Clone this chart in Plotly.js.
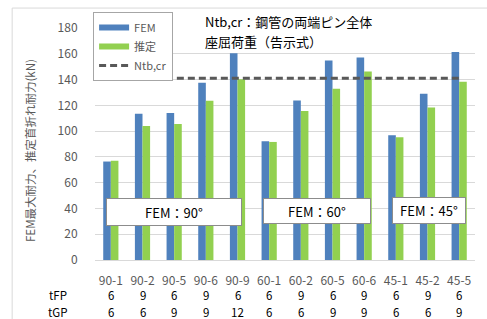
<!DOCTYPE html>
<html>
<head>
<meta charset="utf-8">
<script src="https://cdn.plot.ly/plotly-3.0.1.min.js"></script>
<style>
html,body{margin:0;padding:0;background:#fff;}
#chart{width:487px;height:319px;}
</style>
</head>
<body>
<div id="chart"></div>
<script>
const categories = ['90-1','90-2','90-5','90-6','90-9','60-1','60-2','60-5','60-6','45-1','45-2','45-5'];
const femValues = [76.4, 113.4, 114, 137.5, 160.5, 92.2, 123.7, 154.8, 157.1, 96.8, 128.9, 161.3];
const estValues = [77, 104, 105.6, 123.5, 140.3, 91.6, 115.7, 132.8, 146.3, 95.3, 118.3, 138.3];
const NTB_CR = 141;
const tFP = ['6','9','6','9','6','6','9','6','9','6','9','6'];
const tGP = ['6','6','9','9','12','6','6','9','9','6','6','9'];
const groupLabels = ['FEM：90°','FEM：60°','FEM：45°'];
const yTitle = 'FEM最大耐力、推定首折れ耐力(kN)';

const FONT = '"Noto Sans CJK JP", "Noto Sans", sans-serif';
const BLUE = '#4F81BD', GREEN = '#92D050', DASH = '#595959';

const traces = [
  {type:'bar', x:categories, y:femValues, name:'FEM', marker:{color:BLUE}, showlegend:false},
  {type:'bar', x:categories, y:estValues, name:'推定', marker:{color:GREEN}, showlegend:false},
  {type:'scatter', mode:'lines', x:[categories[0], categories[categories.length-1]], y:[NTB_CR, NTB_CR],
   line:{color:DASH, width:3, dash:'7px,4px'}, showlegend:false, hoverinfo:'skip'},
  {type:'scatter', mode:'lines', x:[null], y:[null], name:'FEM', line:{color:BLUE, width:6}},
  {type:'scatter', mode:'lines', x:[null], y:[null], name:'推定', line:{color:GREEN, width:6}},
  {type:'scatter', mode:'lines', x:[null], y:[null], name:'Ntb,cr', line:{color:DASH, width:3, dash:'7px,4px'}}
];

const annotations = [];
const numFont = {family:FONT, size:11.5, color:'#000'};
const yRow1 = -0.152, yRow2 = -0.222;
categories.forEach((c,i)=>{
  annotations.push({xref:'x', yref:'paper', x:c, y:yRow1, xanchor:'center', yanchor:'middle', text:tFP[i], showarrow:false, font:numFont});
  annotations.push({xref:'x', yref:'paper', x:c, y:yRow2, xanchor:'center', yanchor:'middle', text:tGP[i], showarrow:false, font:numFont});
});
annotations.push({xref:'paper', yref:'paper', x:-0.097, y:yRow1, xanchor:'center', yanchor:'middle', text:'tFP', showarrow:false, font:numFont});
annotations.push({xref:'paper', yref:'paper', x:-0.097, y:yRow2, xanchor:'center', yanchor:'middle', text:'tGP', showarrow:false, font:numFont});

annotations.push({xref:'paper', yref:'paper', x:-0.171, y:0.47, xanchor:'center', yanchor:'middle', textangle:-90,
  text:yTitle, showarrow:false, font:{family:FONT, size:11.5, color:'#595959'}});

const boxes = [
  {x:0.208, y:0.207, w:134, h:26},
  {x:0.584, y:0.211, w:106, h:24},
  {x:0.879, y:0.213, w:72, h:25}
];
boxes.forEach((b,i)=>{
  annotations.push({xref:'paper', yref:'paper', x:b.x, y:b.y, xanchor:'center', yanchor:'middle', text:groupLabels[i], showarrow:false,
    width:b.w, height:b.h, bgcolor:'#fff', bordercolor:'#8c8c8c', borderwidth:1, borderpad:0,
    font:{family:FONT, size:13, color:'#000'}});
});

annotations.push({xref:'paper', yref:'paper', x:0.284, y:1.026, xanchor:'left', yanchor:'middle', text:'Ntb,cr：鋼管の両端ピン全体', showarrow:false,
  font:{family:FONT, size:13, color:'#000'}});
annotations.push({xref:'paper', yref:'paper', x:0.284, y:0.94, xanchor:'left', yanchor:'middle', text:'座屈荷重（告示式）', showarrow:false,
  font:{family:FONT, size:13, color:'#000'}});

const layout = {
  width:487, height:319,
  margin:{l:95, r:12, t:28, b:59},
  paper_bgcolor:'#fff', plot_bgcolor:'#fff',
  font:{family:FONT, size:12, color:'#595959'},
  barmode:'group', bargap:0.52, bargroupgap:0,
  xaxis:{type:'category', showgrid:false, showline:true, linecolor:'#d9d9d9', linewidth:1,
    ticks:'outside', ticklen:10, tickcolor:'rgba(0,0,0,0)', tickfont:{family:FONT, size:12, color:'#595959'}, fixedrange:true},
  yaxis:{range:[0,180], dtick:20, showgrid:true, gridcolor:'#d9d9d9', zeroline:true, zerolinecolor:'#d9d9d9',
    ticks:'outside', ticklen:14, tickcolor:'rgba(0,0,0,0)', tickfont:{family:FONT, size:12, color:'#595959'}},
  legend:{x:-0.005, y:1.069, xanchor:'left', yanchor:'top', bgcolor:'#fff', bordercolor:'#a6a6a6', borderwidth:1,
    font:{family:FONT, size:11, color:'#595959'}, tracegroupgap:0, itemwidth:30},
  shapes:[
    {type:'rect', xref:'paper', yref:'paper', x0:-0.218, x1:1.2, y0:-0.5, y1:1.086, line:{color:'#d9d9d9', width:1}, fillcolor:'rgba(0,0,0,0)', layer:'below'}
  ],
  annotations:annotations,
  showlegend:true
};

Plotly.newPlot('chart', traces, layout, {staticPlot:true, displayModeBar:false});
</script>
</body>
</html>
